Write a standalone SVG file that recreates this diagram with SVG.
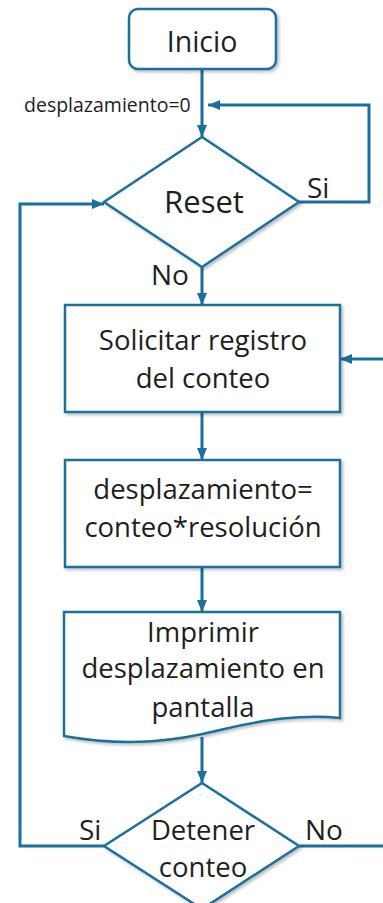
<svg xmlns="http://www.w3.org/2000/svg" width="383" height="903" viewBox="0 0 383 903">
<style>
.shape{fill:#ffffff;stroke:#1b6f9c;stroke-width:2.5}
.conn{fill:none;stroke:#1b6f9c;stroke-width:3}
text{font-family:"Open Sans","Liberation Sans",sans-serif;fill:#1e1e1e}
.t{font-size:27.5px;text-anchor:middle}
.l{font-size:28px}
.s{font-size:19.5px}
</style>
<defs>
<marker id="ah" markerUnits="userSpaceOnUse" markerWidth="12" markerHeight="12" viewBox="0 0 12 12" refX="12" refY="6" orient="auto">
<path d="M0,1 L12,6 L0,11 Z" fill="#1b6f9c"/>
</marker>
<filter id="sh" x="-10%" y="-10%" width="130%" height="130%">
<feDropShadow dx="2" dy="2" stdDeviation="1.5" flood-color="#000" flood-opacity="0.25"/>
</filter>
</defs>
<g id="connectors">
<path class="conn" d="M202,69 V137" marker-end="url(#ah)"/>
<path class="conn" d="M299,202 H369 V105 H208" marker-end="url(#ah)"/>
<path class="conn" d="M202,267 V305" marker-end="url(#ah)"/>
<path class="conn" d="M202,412 V460" marker-end="url(#ah)"/>
<path class="conn" d="M202,567 V612" marker-end="url(#ah)"/>
<path class="conn" d="M202,737 V783" marker-end="url(#ah)"/>
<path class="conn" d="M104,846 H20 V204 H104" marker-end="url(#ah)"/>
<path class="conn" d="M299,846 H386"/>
<path class="conn" d="M386,359 H340" marker-end="url(#ah)"/>
<text class="s" x="24" y="112">desplazamiento=0</text>
<text class="l" x="307" y="198">Si</text>
<text class="l" x="151" y="285">No</text>
<text class="l" x="79" y="840">Si</text>
<text class="l" x="305" y="840">No</text>
</g>
<g id="inicio">
<rect class="shape" x="129" y="9" width="147" height="60" rx="9" filter="url(#sh)"/>
<text class="t" x="202" y="52" style="font-size:28.5px">Inicio</text>
</g>
<g id="reset">
<path class="shape" d="M202,137 L299,202 L202,267 L104,202 Z" filter="url(#sh)"/>
<text class="t" x="204" y="213" style="font-size:31px">Reset</text>
</g>
<g id="solicitar">
<rect class="shape" x="65" y="305" width="275" height="107" filter="url(#sh)"/>
<text class="t" x="203" y="350">Solicitar registro</text>
<text class="t" x="203" y="388">del conteo</text>
</g>
<g id="calculo">
<rect class="shape" x="65" y="460" width="275" height="107" filter="url(#sh)"/>
<text class="t" x="203" y="499">desplazamiento=</text>
<text class="t" x="203" y="537">conteo*resolución</text>
</g>
<g id="imprimir">
<path class="shape" d="M64,612 H340 V718 C300,714 260,720 220,730 C180,740 130,748 64,736 Z" filter="url(#sh)"/>
<text class="t" x="203" y="642">Imprimir</text>
<text class="t" x="203" y="678">desplazamiento en</text>
<text class="t" x="203" y="717">pantalla</text>
</g>
<g id="detener">
<path class="shape" d="M202,783 L299,846 L202,909 L104,846 Z" filter="url(#sh)"/>
<text class="t" x="203" y="840">Detener</text>
<text class="t" x="203" y="877">conteo</text>
</g>
</svg>
